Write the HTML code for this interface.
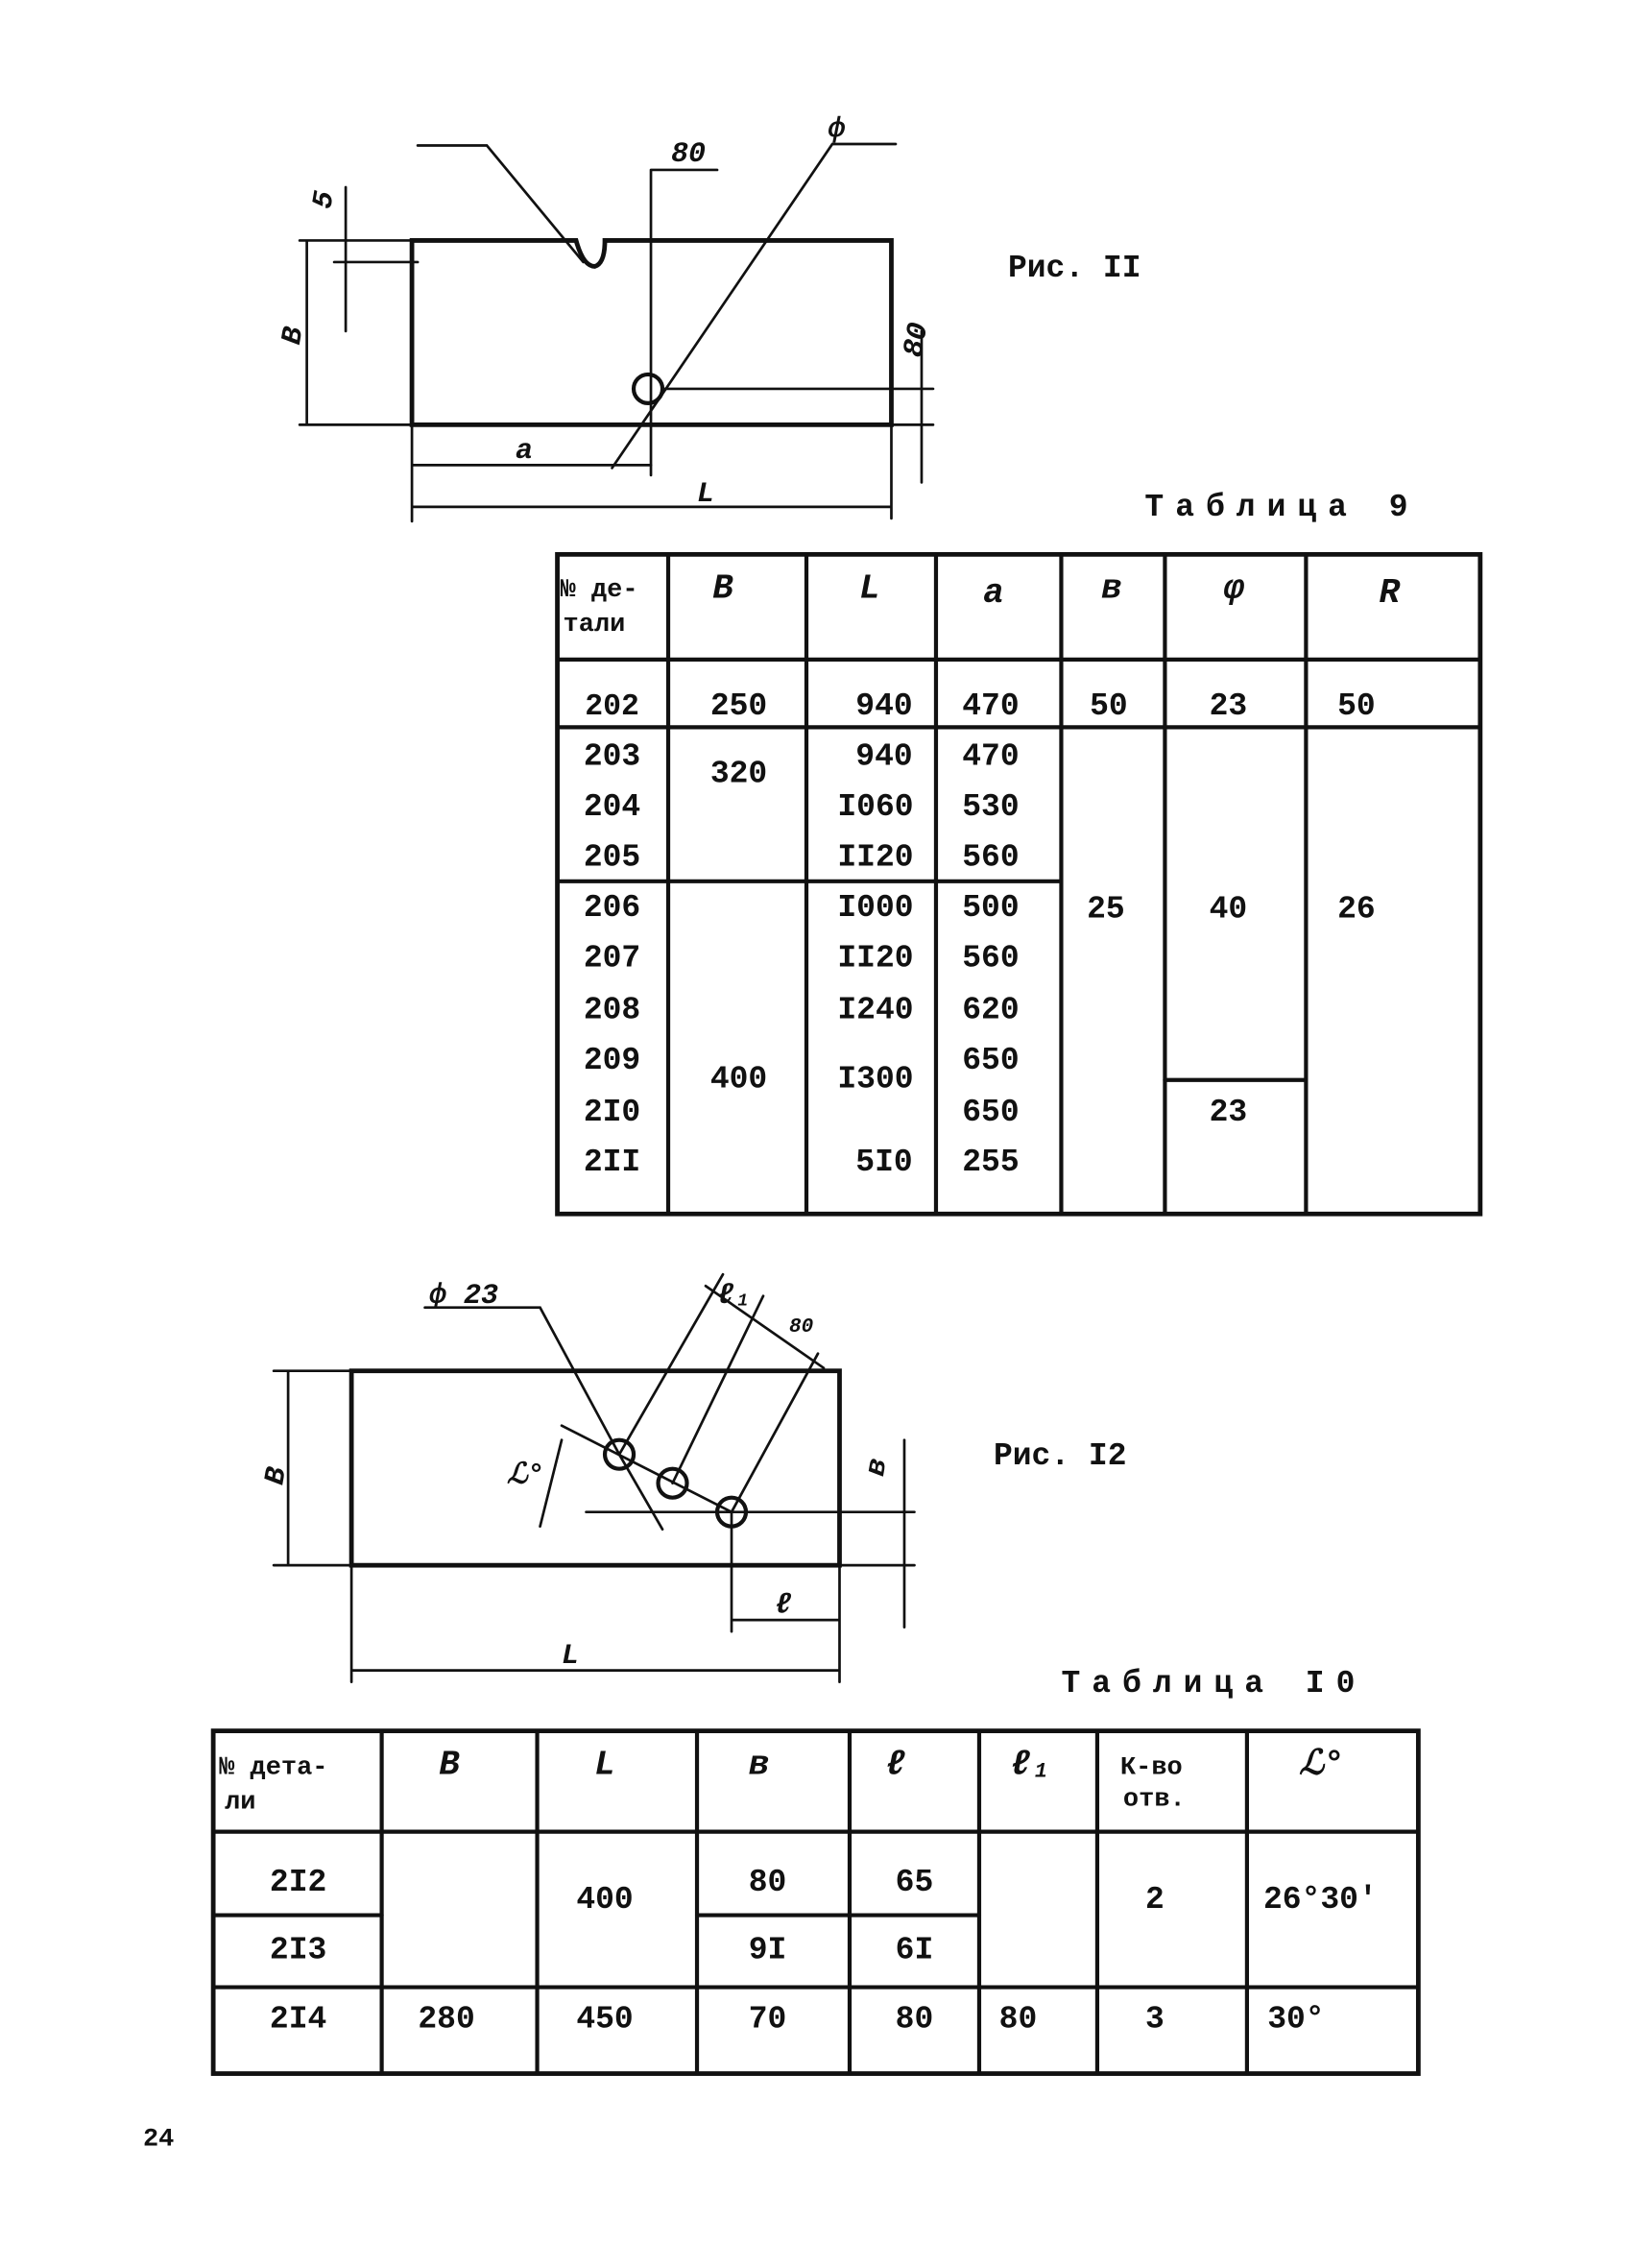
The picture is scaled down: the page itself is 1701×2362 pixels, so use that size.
<!DOCTYPE html>
<html><head><meta charset="utf-8"><style>
html,body{margin:0;padding:0;background:#fff;}
svg{display:block;}
text{font-family:"Liberation Mono","DejaVu Sans Mono",monospace;fill:#111;font-weight:bold;}
.s{font-family:"Liberation Sans",sans-serif;font-style:italic;font-weight:bold;}
</style></head><body>
<svg width="1701" height="2362" viewBox="0 0 1134 1575" xmlns="http://www.w3.org/2000/svg">
<g stroke="#111" fill="none" stroke-linecap="round">
<!-- Fig 11 -->
<path d="M286,167 L400,167 Q405,185 413,185 Q420,183 420,167 L619,167 L619,295 L286,295 Z" stroke-width="3.2"/>
<circle cx="450" cy="270" r="10" stroke-width="2.8"/>
<path d="M290,101 L338,101 L405,182" stroke-width="1.8"/>
<path d="M452,118 L452,330 M452,118 L498,118" stroke-width="1.8"/>
<path d="M425,325 L578,100 L622,100" stroke-width="1.8"/>
<path d="M208,167 L286,167 M208,295 L286,295 M213,167 L213,295" stroke-width="1.8"/>
<path d="M240,130 L240,230 M232,182 L290,182" stroke-width="1.8"/>
<path d="M460,270 L648,270 M619,295 L648,295 M640,230 L640,335" stroke-width="1.8"/>
<path d="M286,295 L286,362 M286,323 L452,323 M286,352 L619,352 M619,295 L619,360" stroke-width="1.8"/>
<!-- table 9 -->
<path d="M387,385 L1028,385 L1028,843 L387,843 Z" stroke-width="3.2"/>
<path d="M387,458 L1028,458 M387,505 L1028,505 M387,612 L737,612 M809,750 L907,750" stroke-width="2.8"/>
<path d="M464,385 V843 M560,385 V843 M650,385 V843 M737,385 V843 M809,385 V843 M907,385 V843" stroke-width="2.8"/>
<!-- Fig 12 -->
<rect x="244" y="952" width="339" height="135" stroke-width="3.2"/>
<circle cx="430" cy="1010" r="10" stroke-width="2.8"/>
<circle cx="467" cy="1030" r="10" stroke-width="2.8"/>
<circle cx="508" cy="1050" r="10" stroke-width="2.8"/>
<path d="M295,908 L375,908 L430,1010 L460,1062" stroke-width="1.8"/>
<path d="M430,1010 L502,885 M467,1030 L530,900 M508,1050 L568,940 M490,893 L572,950" stroke-width="1.8"/>
<path d="M390,990 L508,1050 M407,1050 L635,1050 M390,1000 L375,1060" stroke-width="1.8"/>
<path d="M190,952 L244,952 M190,1087 L635,1087 M200,952 L200,1087" stroke-width="1.8"/>
<path d="M628,1000 L628,1130" stroke-width="1.8"/>
<path d="M508,1050 L508,1133 M508,1125 L583,1125 M583,1087 L583,1168 M244,1087 L244,1168 M244,1160 L583,1160" stroke-width="1.8"/>
<!-- table 10 -->
<rect x="148" y="1202" width="837" height="238" stroke-width="3.2"/>
<path d="M148,1272 H985 M148,1380 H985 M148,1330 H265 M484,1330 H680" stroke-width="2.8"/>
<path d="M265,1202 V1440 M373,1202 V1440 M484,1202 V1440 M590,1202 V1440 M680,1202 V1440 M762,1202 V1440 M866,1202 V1440" stroke-width="2.8"/>
</g>
<g font-size="22">
<text x="700" y="192">Рис. II</text>
<text x="795" y="358" letter-spacing="8">Таблица 9</text>
<text x="690" y="1017">Рис. I2</text>
<text x="737" y="1175" letter-spacing="8">Таблица I0</text>
</g>
<g class="s" font-size="20">
<text x="466" y="112">80</text><text x="575" y="95">ф</text>
<text x="216" y="140" transform="rotate(-80 226 135)">5</text>
<text x="196" y="238" transform="rotate(-80 203 232)">В</text>
<text x="628" y="245" transform="rotate(-80 636 240)">80</text>
<text x="358" y="318">а</text><text x="484" y="348">L</text>
<text x="298" y="905">ф 23</text><text x="498" y="905">ℓ₁</text><text x="548" y="925" font-size="14">80</text>
<text x="186" y="1030" transform="rotate(-80 192 1025)">В</text>
<text x="352" y="1030">ℒ°</text>
<text x="600" y="1020" transform="rotate(-80 610 1015)">в</text>
<text x="538" y="1120">ℓ</text><text x="390" y="1155">L</text>
</g>
<g font-size="22" text-anchor="middle">
<text x="425" y="496" font-size="21">202</text><text x="425" y="531">203</text><text x="425" y="566">204</text><text x="425" y="601">205</text><text x="425" y="636">206</text><text x="425" y="671">207</text><text x="425" y="707">208</text><text x="425" y="742">209</text><text x="425" y="778">2I0</text><text x="425" y="813">2II</text>
<text x="513" y="496">250</text><text x="513" y="543">320</text><text x="513" y="755">400</text>
<text x="614" y="496">940</text><text x="614" y="531">940</text><text x="608" y="566">I060</text><text x="608" y="601">II20</text><text x="608" y="636">I000</text><text x="608" y="671">II20</text><text x="608" y="707">I240</text><text x="608" y="755">I300</text><text x="614" y="813">5I0</text>
<text x="688" y="496">470</text><text x="688" y="531">470</text><text x="688" y="566">530</text><text x="688" y="601">560</text><text x="688" y="636">500</text><text x="688" y="671">560</text><text x="688" y="707">620</text><text x="688" y="742">650</text><text x="688" y="778">650</text><text x="688" y="813">255</text>
<text x="770" y="496">50</text><text x="768" y="637">25</text>
<text x="853" y="496">23</text><text x="853" y="637">40</text><text x="853" y="778">23</text>
<text x="942" y="496">50</text><text x="942" y="637">26</text>
</g>
<g font-size="18">
<text x="389" y="414">№ де-</text><text x="391" y="438">тали</text>
<text x="152" y="1232">№ дета-</text><text x="156" y="1256">ли</text>
<text x="778" y="1232">К-во</text><text x="780" y="1254">отв.</text>
</g>
<g class="s" font-size="24" text-anchor="middle">
<text x="502" y="415">В</text><text x="604" y="415">L</text><text x="690" y="418">а</text><text x="772" y="415">в</text><text x="857" y="415">φ</text><text x="965" y="418">R</text>
<text x="312" y="1232">В</text><text x="420" y="1232">L</text><text x="527" y="1232">в</text><text x="622" y="1232">ℓ</text><text x="716" y="1232">ℓ₁</text><text x="918" y="1232">ℒ°</text>
</g>
<g font-size="22" text-anchor="middle">
<text x="207" y="1313">2I2</text><text x="207" y="1360">2I3</text><text x="207" y="1408">2I4</text>
<text x="310" y="1408">280</text><text x="420" y="1325">400</text><text x="420" y="1408">450</text>
<text x="533" y="1313">80</text><text x="533" y="1360">9I</text><text x="533" y="1408">70</text>
<text x="635" y="1313">65</text><text x="635" y="1360">6I</text><text x="635" y="1408">80</text>
<text x="707" y="1408">80</text>
<text x="802" y="1325">2</text><text x="802" y="1408">3</text>
<text x="917" y="1325">26°30'</text><text x="900" y="1408">30°</text>
<text x="110" y="1490" font-size="18">24</text>
</g>
</svg>
</body></html>
